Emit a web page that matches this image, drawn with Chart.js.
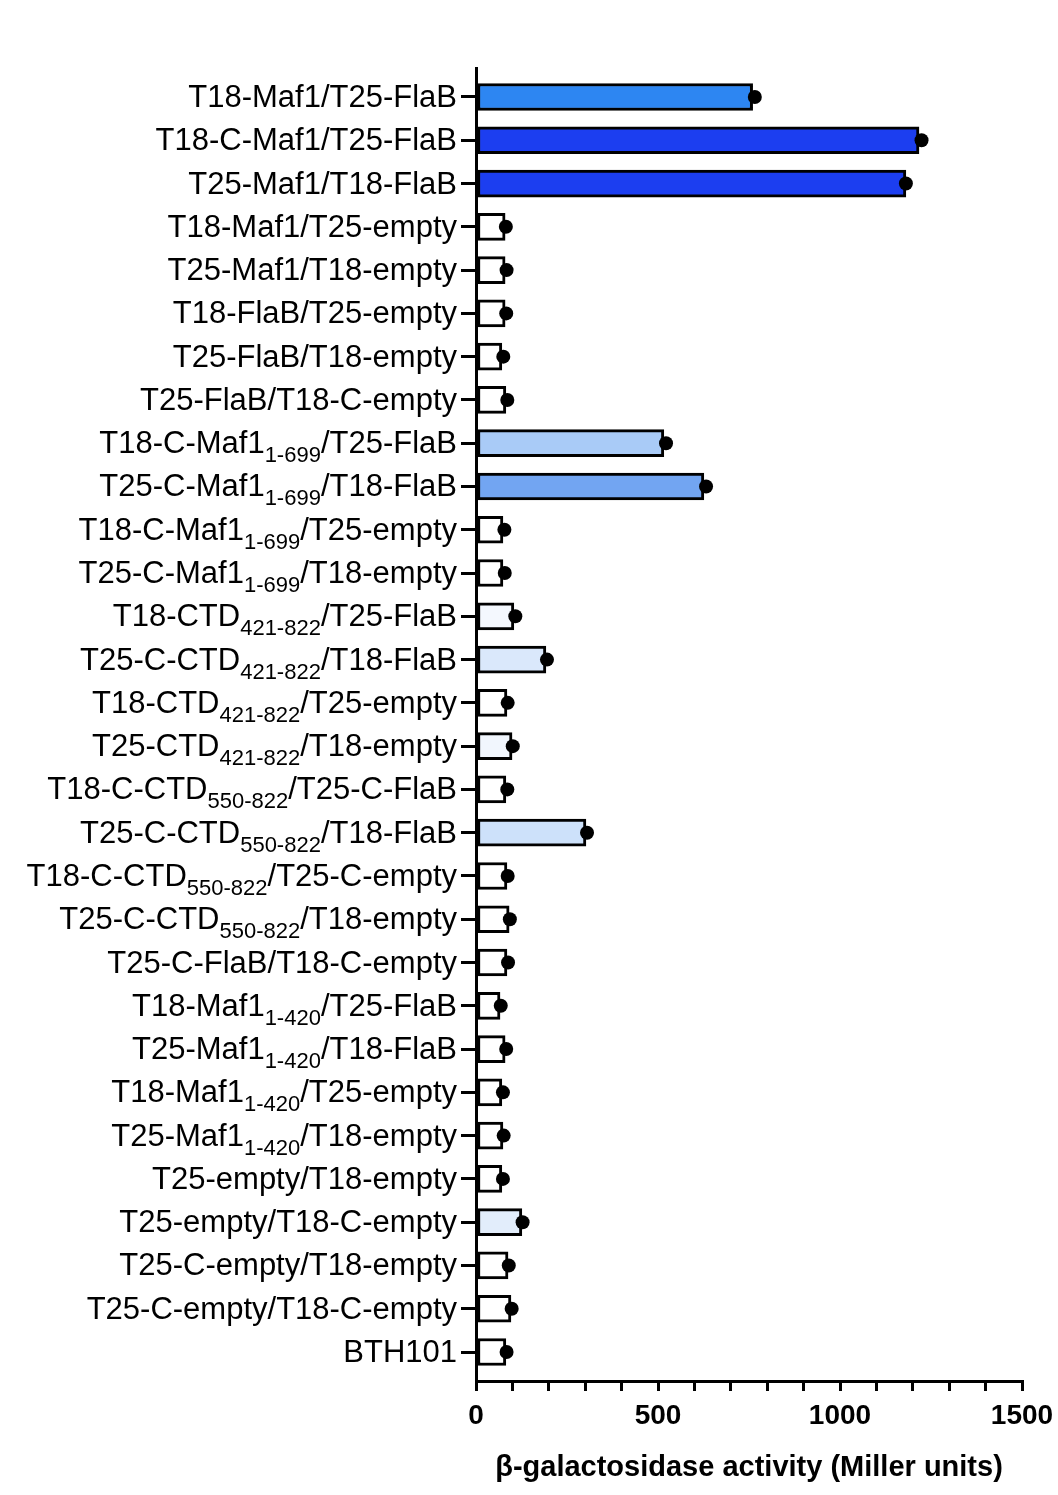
<!DOCTYPE html>
<html>
<head>
<meta charset="utf-8">
<script src="https://cdn.jsdelivr.net/npm/chart.js@4"></script>
<style>
  body { margin: 0; background: #fff; }
  #wrap { width: 1058px; height: 1495px; }
</style>
</head>
<body>
<div id="wrap"><canvas id="myChart"></canvas></div>
<script>
// labels: _{...} marks a subscript
var labels = [
  'T18-Maf1/T25-FlaB',
  'T18-C-Maf1/T25-FlaB',
  'T25-Maf1/T18-FlaB',
  'T18-Maf1/T25-empty',
  'T25-Maf1/T18-empty',
  'T18-FlaB/T25-empty',
  'T25-FlaB/T18-empty',
  'T25-FlaB/T18-C-empty',
  'T18-C-Maf1_{1-699}/T25-FlaB',
  'T25-C-Maf1_{1-699}/T18-FlaB',
  'T18-C-Maf1_{1-699}/T25-empty',
  'T25-C-Maf1_{1-699}/T18-empty',
  'T18-CTD_{421-822}/T25-FlaB',
  'T25-C-CTD_{421-822}/T18-FlaB',
  'T18-CTD_{421-822}/T25-empty',
  'T25-CTD_{421-822}/T18-empty',
  'T18-C-CTD_{550-822}/T25-C-FlaB',
  'T25-C-CTD_{550-822}/T18-FlaB',
  'T18-C-CTD_{550-822}/T25-C-empty',
  'T25-C-CTD_{550-822}/T18-empty',
  'T25-C-FlaB/T18-C-empty',
  'T18-Maf1_{1-420}/T25-FlaB',
  'T25-Maf1_{1-420}/T18-FlaB',
  'T18-Maf1_{1-420}/T25-empty',
  'T25-Maf1_{1-420}/T18-empty',
  'T25-empty/T18-empty',
  'T25-empty/T18-C-empty',
  'T25-C-empty/T18-empty',
  'T25-C-empty/T18-C-empty',
  'BTH101'
];

var barValues = [760, 1217, 1181, 80, 80, 80, 71, 82, 516, 626,
                 74, 74, 104, 192, 85, 99, 82, 302, 85, 91,
                 85, 66, 80, 71, 74, 71, 126, 88, 96, 82];

var dotValues = [766, 1224, 1181, 82, 84, 83, 75, 86, 522, 632,
                 78, 79, 108, 195, 87, 101, 86, 305, 87, 93,
                 88, 68, 83, 74, 76, 74, 128, 90, 98, 84];

var barColors = ['#2d86f2', '#1c3ef0', '#1c3ef0', '#ffffff', '#ffffff', '#ffffff', '#ffffff', '#ffffff', '#a9cbf7', '#72a5f2',
                 '#ffffff', '#ffffff', '#f4f8fe', '#dae8fb', '#ffffff', '#f1f6fd', '#ffffff', '#cde1fa', '#ffffff', '#ffffff',
                 '#ffffff', '#ffffff', '#ffffff', '#ffffff', '#ffffff', '#ffffff', '#e2edfb', '#ffffff', '#ffffff', '#ffffff'];

var xTicks = [0, 500, 1000, 1500];

var FONT = '"Liberation Sans", Arial, Helvetica, sans-serif';

// draws the category labels with subscripts next to the y ticks
var subLabels = {
  id: 'subLabels',
  afterDraw: function(chart) {
    var c = chart.ctx;
    var yScale = chart.scales.y;
    var right = chart.chartArea.left - 19;
    c.save();
    c.fillStyle = '#000';
    c.textBaseline = 'alphabetic';
    c.textAlign = 'left';
    labels.forEach(function(lab, i) {
      var y = yScale.getPixelForValue(i);
      var parts = [];
      var re = /_\{([^}]*)\}/g, last = 0, m;
      while ((m = re.exec(lab)) !== null) {
        if (m.index > last) parts.push({t: lab.slice(last, m.index), sub: false});
        parts.push({t: m[1], sub: true});
        last = re.lastIndex;
      }
      if (last < lab.length) parts.push({t: lab.slice(last), sub: false});
      var total = 0;
      parts.forEach(function(p) {
        c.font = (p.sub ? '22px ' : '31px ') + FONT;
        p.w = c.measureText(p.t).width;
        total += p.w;
      });
      var x = right - total;
      parts.forEach(function(p) {
        c.font = (p.sub ? '22px ' : '31px ') + FONT;
        c.fillText(p.t, x, y + (p.sub ? 19 : 10));
        x += p.w;
      });
    });
    c.restore();
  }
};

var barData = barValues.map(function(v, i) { return {x: v, y: i}; });
var dotData = dotValues.map(function(v, i) { return {x: v, y: i}; });

var ctx = document.getElementById('myChart').getContext('2d');
var myChart = new Chart(ctx, {
  type: 'bar',
  data: {
    datasets: [{
      type: 'scatter',
      data: dotData,
      backgroundColor: '#000',
      borderWidth: 0,
      pointRadius: 7,
      order: 0
    }, {
      type: 'bar',
      indexAxis: 'y',
      data: barData,
      backgroundColor: barColors,
      borderColor: '#000',
      borderWidth: 3,
      borderSkipped: false,
      barThickness: 27,
      order: 1
    }]
  },
  options: {
    responsive: true,
    maintainAspectRatio: false,
    animation: false,
    layout: { padding: { top: 68, right: 36, bottom: 0, left: 0 } },
    plugins: {
      legend: { display: false },
      tooltip: { enabled: false }
    },
    scales: {
      x: {
        type: 'linear',
        position: 'bottom',
        offset: false,
        min: 0,
        max: 1500,
        afterFit: function(s) { s.height = 114; s.paddingLeft = 0; s.paddingRight = 0; },
        border: { color: '#000', width: 3 },
        grid: { offset: false, drawOnChartArea: false, drawTicks: true, tickLength: 10, color: '#000', lineWidth: 3 },
        ticks: {
          stepSize: 100,
          autoSkip: false,
          maxTicksLimit: 100,
          maxRotation: 0,
          padding: 8,
          color: '#000',
          font: { family: FONT, size: 28, weight: 'bold' },
          callback: function(v) { return xTicks.indexOf(v) >= 0 ? String(v) : ''; }
        },
        title: {
          display: true,
          text: 'β-galactosidase activity (Miller units)',
          color: '#000',
          font: { family: FONT, size: 29, weight: 'bold' },
          padding: { top: 0, bottom: 10 }
        }
      },
      y: {
        type: 'linear',
        position: 'left',
        offset: false,
        reverse: true,
        min: -0.67,
        max: 29.67,
        afterFit: function(s) { s.width = 476; },
        border: { color: '#000', width: 3 },
        grid: { offset: false, drawOnChartArea: false, drawTicks: true, tickLength: 15, color: '#000', lineWidth: 3 },
        ticks: {
          stepSize: 1,
          includeBounds: false,
          autoSkip: false,
          maxTicksLimit: 100,
          callback: function() { return ''; }
        }
      }
    }
  },
  plugins: [subLabels]
});
</script>
</body>
</html>
